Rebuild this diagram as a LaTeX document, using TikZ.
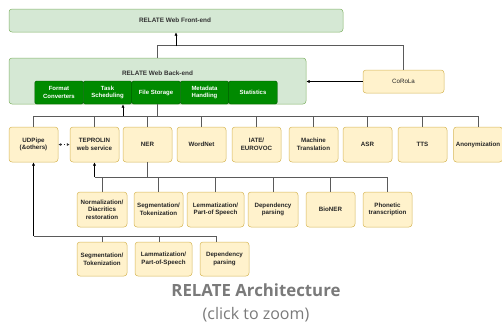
\documentclass[tikz,border=0pt]{standalone}
\usepackage{fontspec}
\setmainfont{Liberation Sans}
\newfontfamily\titlefont{Open Sans}
\usetikzlibrary{arrows.meta,calc}
\definecolor{gfill}{HTML}{D5E8D4}
\definecolor{gline}{HTML}{82B366}
\definecolor{yfill}{HTML}{FFF2CC}
\definecolor{yline}{HTML}{D6B656}
\definecolor{dgreen}{HTML}{008A00}
\definecolor{dgline}{HTML}{005700}
\definecolor{wire}{HTML}{5A5A5A}
\definecolor{titlegray}{HTML}{7A7A7A}
\begin{document}
\begin{tikzpicture}[x=1pt,y=-1pt,
  panel/.style={draw=gline,fill=gfill,rounded corners=3pt,line width=0.5pt,inner sep=0pt},
  ybox/.style={draw=yline,fill=yfill,rounded corners=3pt,line width=0.5pt,minimum width=49pt,minimum height=35pt,inner sep=0.5pt,align=center,font=\fontsize{6.2}{7.6}\selectfont\bfseries,text=black!85},
  gbox/.style={draw=dgline,fill=dgreen,rounded corners=2pt,line width=0.4pt,minimum width=48.5pt,minimum height=23pt,inner sep=0.5pt,align=center,text=white,font=\fontsize{6}{7.4}\selectfont\bfseries},
  lbl/.style={font=\fontsize{6.4}{7.6}\selectfont\bfseries,text=black!80,inner sep=0pt},
  wireline/.style={draw=wire,line width=0.6pt},
  arr/.style={draw=black,line width=0.6pt,-{Latex[length=3.4pt,width=3.2pt]}},
  darr/.style={draw=black!80,line width=0.6pt,dashed,dash pattern=on 1.5pt off 1.5pt,{Latex[length=2.8pt,width=2.8pt]}-{Latex[length=2.8pt,width=2.8pt]}}
]
\useasboundingbox (0,0) rectangle (502,325);

% front-end and back-end panels
\node[panel,minimum width=334pt,minimum height=23pt] (front) at (176,20.5) {};
\node[lbl] (frontlbl) at (175,20.5) {RELATE Web Front-end};
\node[panel,minimum width=297pt,minimum height=46pt] (back) at (157.5,81) {};
\node[lbl] (backlbl) at (157.5,73) {RELATE Web Back-end};

\node[gbox] (fmt)  at (59,92.5)    {Format\\Converters};
\node[gbox] (task) at (107.5,92.5) {Task\\Scheduling};
\node[gbox] (file) at (156,92.5)   {File Storage};
\node[gbox] (meta) at (204.5,92.5) {Metadata\\Handling};
\node[gbox] (stat) at (253,92.5)   {Statistics};

\node[ybox,minimum width=81pt,minimum height=23pt] (corola) at (403.5,81.5) {\mdseries CoRoLa};

% row 1
\node[ybox] (udpipe) at (33.5,144.5)  {UDPipe\\(\&others)};
\node[ybox] (tep)    at (94.5,144.5)  {TEPROLIN\\web service};
\node[ybox] (ner)    at (147.5,144.5) {NER};
\node[ybox] (wn)     at (201.5,144.5) {WordNet};
\node[ybox] (iate)   at (256.5,144.5) {IATE/\\EUROVOC};
\node[ybox] (mt)     at (313.5,144.5) {Machine\\Translation};
\node[ybox] (asr)    at (367.5,144.5) {ASR};
\node[ybox] (tts)    at (422.5,144.5) {TTS};
\node[ybox,inner sep=0pt] (anon) at (478,144.5) {Anonymization};

% row 2
\node[ybox,minimum width=50pt] (norm) at (102,209.5)   {Normalization/\\Diacritics\\restoration};
\node[ybox] (seg2)  at (158.5,209.5) {Segmentation/\\Tokenization};
\node[ybox,minimum width=57pt] (lem2) at (215.5,209.5) {Lemmatization/\\Part-of Speech};
\node[ybox,minimum width=50pt] (dep2) at (273,209.5)   {Dependency\\parsing};
\node[ybox] (bio)   at (330.5,209.5) {BioNER};
\node[ybox] (phon)  at (387.5,209.5) {Phonetic\\transcription};

% row 3
\node[ybox,minimum width=50pt,minimum height=34pt] (seg3) at (102,259)   {Segmentation/\\Tokenization};
\node[ybox,minimum width=57pt,minimum height=34pt] (lem3) at (163.5,259) {Lammatization/\\Part-of-Speech};
\node[ybox,minimum height=34pt] (dep3) at (224.5,259) {Dependency\\parsing};

% connectors: top
\draw[wireline] (back.north) -- ++(0,-12) -| (corola.north);
\coordinate (fa) at (176,46);
\draw[arr] (fa) -- (fa |- front.south);
\draw[arr] (corola.west) -- (back.east |- corola.west);

% bus 1
\coordinate (b1) at (157.5,116);
\draw[wireline] (back.south) -- (b1);
\draw[wireline] (udpipe.north |- b1) -- (anon.north |- b1);
\foreach \n in {udpipe,tep,ner,wn,iate,mt,asr,tts,anon}
  \draw[wireline] (\n.north |- b1) -- (\n.north);
\coordinate (ta) at (123,116);
\draw[arr] (ta) -- (ta |- back.south);
\draw[darr] (udpipe.east) -- (tep.west);

% bus 2
\coordinate (b2) at (147.5,177);
\draw[wireline] (ner.south) -- (b2);
\draw[wireline] (tep.south |- b2) -- (phon.north |- b2);
\draw[arr] (tep.south |- b2) -- (tep.south);
\foreach \n in {norm,seg2,lem2,dep2,bio,phon}
  \draw[wireline] (\n.north |- b2) -- (\n.north);

% bus 3
\coordinate (b3) at (33.5,236);
\coordinate (d2) at (159,236);
\coordinate (d3) at (216,236);
\draw[wireline] (b3) -- (d3);
\draw[arr] (b3) -- (udpipe.south);
\draw[wireline] (seg3.north |- b3) -- (seg3.north);
\draw[wireline] (d2) -- (d2 |- lem3.north);
\draw[wireline] (d3) -- (d3 |- dep3.north);

% caption
\node[font=\titlefont\fontsize{16.8}{20}\selectfont\bfseries,text=titlegray] (cap) at (256,290) {RELATE Architecture};
\node[font=\titlefont\fontsize{16}{19}\selectfont,text=titlegray] (cap2) at (256,315) {(click to zoom)};
\end{tikzpicture}
\end{document}
